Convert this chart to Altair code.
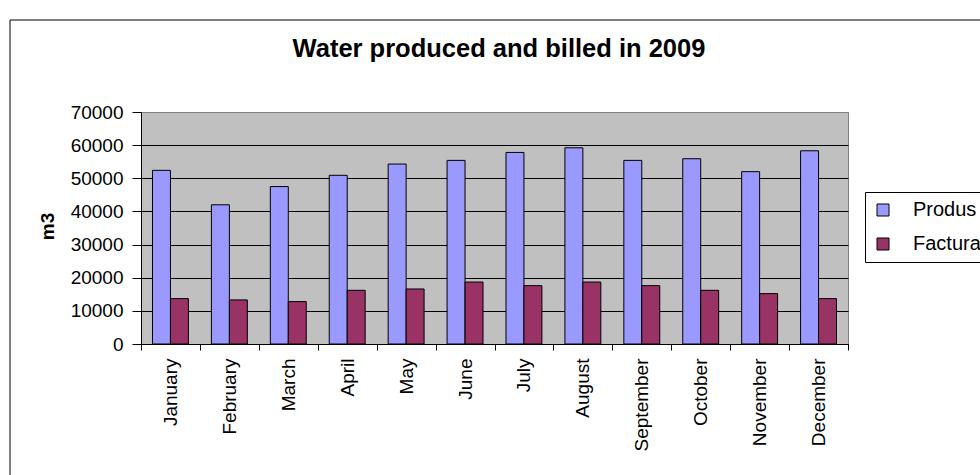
import altair as alt
import pandas as pd

# ---- data ----
months = ["January", "February", "March", "April", "May", "June",
          "July", "August", "September", "October", "November", "December"]
series = ["Produs", "Facturat"]
produs = [52400, 42000, 47500, 50900, 54300, 55400, 57800, 59200, 55400, 55900, 52000, 58300]
facturat = [13700, 13300, 12800, 16200, 16600, 18700, 17600, 18700, 17600, 16200, 15200, 13700]
y_ticks = [0, 10000, 20000, 30000, 40000, 50000, 60000, 70000]
title_text = "Water produced and billed in 2009"
y_title = "m3"

colors = ["#9999FF", "#993366"]
FONT = "Liberation Sans"

rows = []
for m, p, f in zip(months, produs, facturat):
    rows.append({"month": m, "series": series[0], "value": p})
    rows.append({"month": m, "series": series[1], "value": f})
df = pd.DataFrame(rows)

W, H = 707, 232          # plot area
LEFT, TOP = 141, 112     # plot origin in the page

bars = alt.Chart(df).mark_bar(stroke="black", strokeWidth=1, opacity=1).encode(
    x=alt.X("month:N", sort=months, title=None,
            scale=alt.Scale(paddingInner=0, paddingOuter=0),
            axis=alt.Axis(labelAngle=-90, labelFont=FONT, labelFontSize=19,
                          labelColor="black", tickBand="extent", tickSize=6,
                          tickColor="black", domainColor="black", labelPadding=8,
                          grid=False)),
    xOffset=alt.XOffset("series:N", sort=series,
                        scale=alt.Scale(paddingInner=0, paddingOuter=0.64)),
    y=alt.Y("value:Q", title=y_title,
            scale=alt.Scale(domain=[0, 70000], nice=False),
            axis=alt.Axis(values=y_ticks, format="d", labelFont=FONT, labelFontSize=19,
                          labelColor="black", tickSize=9, tickColor="black",
                          domainColor="black", labelPadding=9,
                          grid=True,
                          gridColor={"condition": {"test": "datum.value == 70000", "value": "#808080"},
                                     "value": "black"},
                          gridOpacity=1, gridWidth=1,
                          titleFont=FONT, titleFontSize=19, titleFontWeight="bold",
                          titleColor="black", titleAngle=-90, titleX=-88, titleY=114,
                          titleAlign="center", titleBaseline="alphabetic")),
    color=alt.Color("series:N", sort=series,
                    scale=alt.Scale(domain=series, range=colors),
                    legend=alt.Legend(title=None, orient="none", legendX=724, legendY=80,
                                      strokeColor="black", fillColor="white", padding=8,
                                      symbolType="square", symbolSize=144,
                                      symbolStrokeColor="black", symbolStrokeWidth=1,
                                      symbolOpacity=1,
                                      labelFont=FONT, labelFontSize=20, labelColor="black",
                                      labelOffset=20, rowPadding=14, cornerRadius=0)),
)

frame = alt.Chart(pd.DataFrame({"k": [0]})).mark_rect(
    fill="white", fillOpacity=0, stroke="black", strokeWidth=1
).encode(
    x=alt.value(10 - LEFT), x2=alt.value(1000 - LEFT),
    y=alt.value(20 - TOP), y2=alt.value(500 - TOP),
)

title = alt.Chart(pd.DataFrame({"t": [title_text]})).mark_text(
    font=FONT, fontSize=25.5, fontWeight="bold", color="black",
    align="center", baseline="alphabetic"
).encode(
    text="t:N",
    x=alt.value(499 - LEFT),
    y=alt.value(57 - TOP),
)

chart = alt.layer(frame, bars, title).properties(
    width=W, height=H,
    autosize=alt.AutoSizeParams(type="none"),
    padding={"left": LEFT, "top": TOP, "right": 980 - LEFT - W, "bottom": 475 - TOP - H},
    background="white",
).configure_view(
    fill="#C0C0C0", stroke="#808080", strokeWidth=1
)

chart.save("out.html", embed_options={"renderer": "svg", "actions": False})
